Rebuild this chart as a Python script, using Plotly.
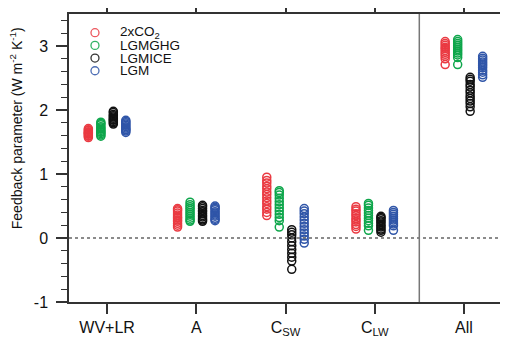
import plotly.graph_objects as go

categories = ["WV+LR", "A", "C<sub>SW</sub>", "C<sub>LW</sub>", "All"]
series_names = ["2xCO<sub>2</sub>", "LGMGHG", "LGMICE", "LGM"]
series_colors = ["#ea3a42", "#0ea64b", "#111111", "#2f55a8"]
series_offsets = [-0.21, -0.07, 0.07, 0.21]
y_tickvals = [-1, 0, 1, 2, 3]
y_ticktext = ["-1", "0", "1", "2", "3"]

# values per category (WV+LR, A, C_SW, C_LW, All)
co2 = [
    [1.57, 1.59, 1.60, 1.62, 1.63, 1.64, 1.65, 1.66, 1.68, 1.69, 1.71],
    [0.17, 0.20, 0.23, 0.26, 0.28, 0.31, 0.33, 0.36, 0.39, 0.42, 0.44, 0.46],
    [0.35, 0.40, 0.45, 0.49, 0.54, 0.58, 0.63, 0.68, 0.72, 0.77, 0.81, 0.86, 0.90, 0.95],
    [0.14, 0.18, 0.21, 0.25, 0.28, 0.31, 0.35, 0.38, 0.42, 0.45, 0.49],
    [2.71, 2.80, 2.84, 2.87, 2.90, 2.93, 2.96, 2.98, 3.01, 3.04, 3.07],
]
lgmghg = [
    [1.59, 1.61, 1.63, 1.65, 1.66, 1.68, 1.70, 1.72, 1.74, 1.77, 1.79, 1.81],
    [0.26, 0.28, 0.31, 0.34, 0.37, 0.40, 0.43, 0.46, 0.49, 0.52, 0.56],
    [0.17, 0.27, 0.32, 0.37, 0.42, 0.47, 0.52, 0.57, 0.62, 0.67, 0.71, 0.74],
    [0.12, 0.19, 0.23, 0.27, 0.31, 0.35, 0.39, 0.43, 0.47, 0.51, 0.54],
    [2.71, 2.82, 2.86, 2.89, 2.92, 2.95, 2.98, 3.01, 3.04, 3.07, 3.10],
]
lgmice = [
    [1.78, 1.80, 1.82, 1.84, 1.85, 1.87, 1.89, 1.91, 1.93, 1.96, 1.98],
    [0.26, 0.28, 0.30, 0.33, 0.35, 0.38, 0.41, 0.43, 0.46, 0.49, 0.51],
    [-0.49, -0.36, -0.30, -0.24, -0.18, -0.12, -0.06, 0.00, 0.05, 0.09, 0.13],
    [0.09, 0.12, 0.14, 0.17, 0.19, 0.22, 0.25, 0.27, 0.30, 0.32, 0.34],
    [1.98, 2.05, 2.10, 2.14, 2.18, 2.22, 2.27, 2.31, 2.36, 2.40, 2.45, 2.48, 2.51],
]
lgm = [
    [1.65, 1.67, 1.69, 1.70, 1.72, 1.74, 1.76, 1.78, 1.80, 1.82, 1.84],
    [0.27, 0.29, 0.31, 0.34, 0.36, 0.39, 0.41, 0.44, 0.46, 0.48, 0.50],
    [-0.08, -0.02, 0.03, 0.08, 0.13, 0.18, 0.23, 0.28, 0.33, 0.38, 0.42, 0.46],
    [0.12, 0.19, 0.22, 0.25, 0.28, 0.31, 0.34, 0.37, 0.40, 0.43],
    [2.51, 2.55, 2.59, 2.62, 2.66, 2.69, 2.72, 2.75, 2.78, 2.81, 2.84],
]
all_series = [co2, lgmghg, lgmice, lgm]

FONT = "Liberation Sans, Arial, Helvetica, sans-serif"
AXC = "#333333"

fig = go.Figure()
for name, color, off, data in zip(series_names, series_colors, series_offsets, all_series):
    xs, ys = [], []
    for ci, vals in enumerate(data):
        for v in vals:
            xs.append(ci + 1 + off)
            ys.append(v)
    fig.add_trace(go.Scatter(
        x=xs, y=ys, mode="markers", name=name, showlegend=False,
        marker=dict(symbol="circle-open", size=8, color=color, line=dict(width=1.5, color=color)),
    ))

fig.add_hline(y=0, line=dict(color="#666666", width=1.5, dash="dot"))
fig.add_shape(type="line", xref="x", yref="paper", x0=4.5, x1=4.5, y0=0, y1=1,
              line=dict(color="#777777", width=1.5))

# legend (drawn as circle shapes + text, to match compact row spacing)
leg_x = 0.060
leg_top = 0.935
leg_step = 0.044
for i, (name, color) in enumerate(zip(series_names, series_colors)):
    yy = leg_top - i * leg_step
    fig.add_shape(type="circle", xref="paper", yref="paper",
                  xsizemode="pixel", ysizemode="pixel", xanchor=leg_x, yanchor=yy,
                  x0=-4, x1=4, y0=-4, y1=4,
                  line=dict(color=color, width=1.3), opacity=0.85)
    fig.add_annotation(x=leg_x + 0.053, y=yy, xref="paper", yref="paper",
                       text=name, showarrow=False, xanchor="left", yanchor="middle",
                       font=dict(size=13.5, color="#111111"))

# y-axis title
fig.add_annotation(x=-0.122, y=0.604, xref="paper", yref="paper",
                   text="Feedback parameter (W m<sup>-2</sup> K<sup>-1</sup>)",
                   textangle=-90, showarrow=False, xanchor="center", yanchor="middle",
                   font=dict(size=14, color="#111111"))

fig.update_layout(
    width=500, height=335,
    margin=dict(l=61, r=6, t=6, b=41),
    paper_bgcolor="white", plot_bgcolor="white",
    font=dict(family=FONT, color="#111111"),
    showlegend=False,
    xaxis=dict(range=[0.573, 5.427], tickvals=[1, 2, 3, 4, 5], ticktext=categories,
               ticks="outside", ticklen=10, tickwidth=1.5, tickcolor=AXC,
               showline=True, linecolor=AXC, linewidth=1.5, mirror="ticks",
               showgrid=False, zeroline=False, tickfont=dict(size=16), automargin=False),
    yaxis=dict(range=[-1, 3.5], tickvals=y_tickvals, ticktext=y_ticktext,
               ticks="outside", ticklen=11, tickwidth=1.5, tickcolor=AXC,
               minor=dict(dtick=0.2, tick0=0, ticks="outside", ticklen=6, tickwidth=1.2, tickcolor=AXC),
               showline=True, linecolor=AXC, linewidth=1.5, mirror="ticks",
               showgrid=False, zeroline=False, tickfont=dict(size=16), automargin=False,
               ticklabelstandoff=5),
)

fig.write_html("out.html")
